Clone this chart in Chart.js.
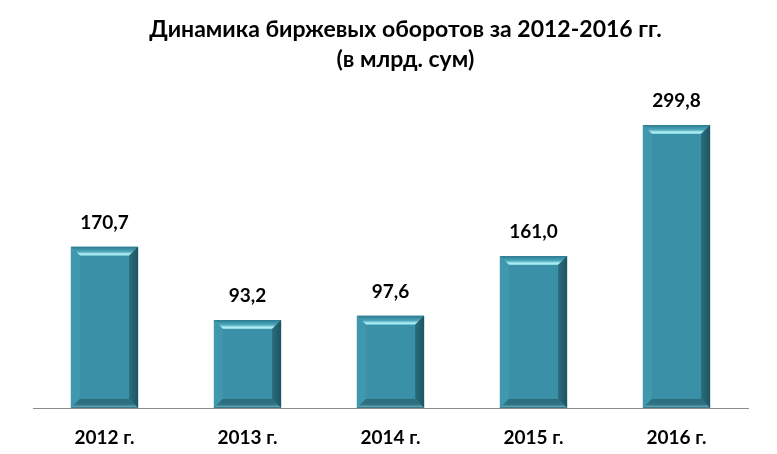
<!DOCTYPE html>
<html lang="ru">
<head>
  <meta charset="UTF-8" />
  <title>Динамика биржевых оборотов</title>
  <script src="https://cdn.jsdelivr.net/npm/chart.js"></script>
  <style>
    html, body { margin: 0; padding: 0; background: #fff; }
    #wrap { width: 777px; height: 454px; position: relative; }
  </style>
</head>
<body>
  <div id="wrap"><canvas id="chart-turnover"></canvas></div>

  <script>
    // данные
    const years = ["2012 г.", "2013 г.", "2014 г.", "2015 г.", "2016 г."];
    const turnover = [170.7, 93.2, 97.6, 161.0, 299.8];
    const titleLines = ["Динамика биржевых оборотов за 2012-2016 гг.", "(в млрд. сум)"];

    const FONT = "Lato, 'Open Sans', sans-serif";

    // заголовок (немного правее центра, как в оригинале)
    const titlePlugin = {
      id: "titleLines",
      afterDraw(chart) {
        const ctx = chart.ctx;
        ctx.save();
        ctx.fillStyle = "#000";
        ctx.textAlign = "center";
        ctx.textBaseline = "alphabetic";
        ctx.font = "bold 23px " + FONT;
        const cx = chart.width / 2 + 17;
        ctx.fillText(titleLines[0], cx, 37, 514);
        ctx.fillText(titleLines[1], cx, 67);
        ctx.restore();
      }
    };

    // объёмный вид столбцов + подписи значений
    const bevelPlugin = {
      id: "bevelBars",
      afterDatasetsDraw(chart) {
        const ctx = chart.ctx;
        const meta = chart.getDatasetMeta(0);
        ctx.save();
        meta.data.forEach((bar, i) => {
          const l = bar.x - bar.width / 2, r = bar.x + bar.width / 2;
          const t = bar.y, b = bar.base;
          const d = 9;

          // верх
          let g = ctx.createLinearGradient(0, t, 0, t + d);
          g.addColorStop(0, "#2c7a8f");
          g.addColorStop(0.55, "#4fa9bd");
          g.addColorStop(0.8, "#b4f1f6");
          g.addColorStop(1, "#7fd0de");
          ctx.fillStyle = g;
          ctx.beginPath();
          ctx.moveTo(l, t); ctx.lineTo(r, t); ctx.lineTo(r - d, t + d); ctx.lineTo(l + d, t + d);
          ctx.closePath(); ctx.fill();

          // левая грань
          ctx.fillStyle = "#3f98ae";
          ctx.beginPath();
          ctx.moveTo(l, t); ctx.lineTo(l + d, t + d); ctx.lineTo(l + d, b - d); ctx.lineTo(l, b);
          ctx.closePath(); ctx.fill();

          // правая грань
          g = ctx.createLinearGradient(r - d, 0, r, 0);
          g.addColorStop(0, "#2a6d7e");
          g.addColorStop(1, "#1f5361");
          ctx.fillStyle = g;
          ctx.beginPath();
          ctx.moveTo(r, t); ctx.lineTo(r - d, t + d); ctx.lineTo(r - d, b - d); ctx.lineTo(r, b);
          ctx.closePath(); ctx.fill();

          // низ
          g = ctx.createLinearGradient(0, b - d, 0, b);
          g.addColorStop(0, "#2a6a7b");
          g.addColorStop(0.6, "#2f7384");
          g.addColorStop(0.85, "#5aa2b3");
          g.addColorStop(1, "#2a6576");
          ctx.fillStyle = g;
          ctx.beginPath();
          ctx.moveTo(l, b); ctx.lineTo(l + d, b - d); ctx.lineTo(r - d, b - d); ctx.lineTo(r, b);
          ctx.closePath(); ctx.fill();

          // подпись
          ctx.fillStyle = "#000";
          ctx.font = "bold 19px " + FONT;
          ctx.textAlign = "center";
          ctx.textBaseline = "alphabetic";
          ctx.fillText(turnover[i].toFixed(1).replace(".", ","), bar.x, t - 18);
        });
        ctx.restore();
      }
    };

    new Chart(document.getElementById("chart-turnover"), {
      type: "bar",
      data: {
        labels: years,
        datasets: [{
          data: turnover,
          backgroundColor: "#3a90a6",
          borderWidth: 0,
          barPercentage: 0.47,
          categoryPercentage: 1
        }]
      },
      options: {
        responsive: true,
        maintainAspectRatio: false,
        animation: false,
        layout: { padding: { left: 33, right: 29, top: 87, bottom: 0 } },
        plugins: {
          legend: { display: false },
          tooltip: { enabled: false }
        },
        scales: {
          y: { display: false, min: 0, max: 340 },
          x: {
            grid: { display: false, drawTicks: false },
            border: { color: "#8c8c8c", width: 1 },
            afterFit(scale) { scale.height = 46; },
            ticks: {
              color: "#000",
              padding: 18,
              font: { family: FONT, size: 19, weight: "bold" }
            }
          }
        }
      },
      plugins: [titlePlugin, bevelPlugin]
    });
  </script>
</body>
</html>
